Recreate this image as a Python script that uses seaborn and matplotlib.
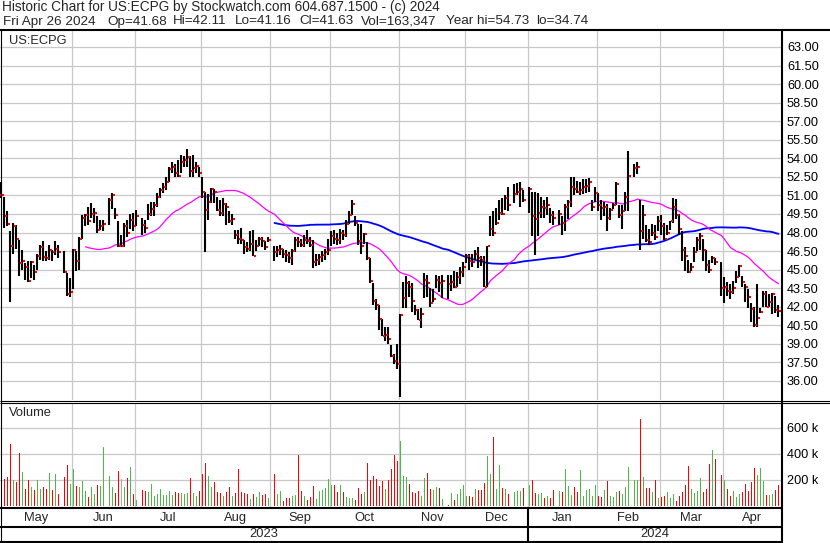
import numpy as np
import pandas as pd
import matplotlib
matplotlib.use("Agg")
import matplotlib.pyplot as plt
import matplotlib.transforms as mtransforms
from matplotlib.lines import Line2D
import seaborn as sns

# ---- data (daily, Apr 27 2023 .. Apr 26 2024), one row per month ----
holidays = ["2023-05-29", "2023-06-19", "2023-07-04", "2023-09-04", "2023-11-23",
            "2023-12-25", "2024-01-01", "2024-01-15", "2024-02-19", "2024-03-29"]

close = [
    51.4, 51.0,
    51.0, 49.3, 48.7, 46.9, 48.5, 47.5, 45.5, 45.7, 45.2, 44.1, 45.6, 44.8, 46.1, 46.8, 46.0, 45.9, 46.6, 46.4, 46.7, 46.4, 44.8, 43.0,
    43.2, 46.6, 45.7, 47.5, 49.2, 49.4, 48.9, 49.5, 49.6, 48.2, 48.5, 48.7, 50.6, 51.0, 49.4, 46.9, 46.9, 48.5, 48.0, 49.0, 48.5,
    49.3, 48.6, 48.4, 49.5, 49.9, 50.2, 50.9, 51.4, 51.7, 52.05, 53.1, 53.3, 52.8, 52.6, 53.7, 53.9, 54.1, 53.0, 53.2, 53.4,
    52.8, 51.3, 49.8, 50.5, 51.5, 51.3, 49.8, 49.6, 50.3, 50.1, 48.9, 49.1, 47.8, 47.5, 47.4, 46.8, 46.7, 47.1, 46.1, 46.9, 47.5, 47.3, 46.8,
    47.4, 46.4, 46.6, 46.7, 46.3, 46.2, 45.9, 46.5, 47.4, 47.2, 47.0, 47.4, 47.3, 47.0, 45.6, 45.8, 46.0, 46.2, 46.4, 46.6,
    47.7, 47.5, 47.4, 48.0, 47.8, 48.7, 49.4, 50.3, 48.8, 47.3, 46.9, 47.9, 45.9, 44.1, 42.5, 42.1, 41.0, 39.6, 39.7, 39.4, 38.0, 37.6,
    37.4, 41.3, 42.7, 43.9, 43.6, 42.5, 41.7, 40.9, 41.4, 44.2, 43.9, 42.3, 42.6, 44.2, 43.9, 44.1, 43.8, 44.0, 43.6, 44.4, 44.8,
    45.2, 46.1, 45.7, 45.6, 46.3, 45.9, 45.8, 43.6, 46.9, 48.3, 48.0, 48.8, 49.6, 49.5, 50.8, 50.2, 51.1, 51.3, 51.5, 50.6,
    51.5, 49.3, 49.1, 49.6, 50.1, 50.0, 50.2, 49.4, 49.2, 49.5, 48.8, 50.1, 50.5, 51.7, 51.5, 51.3, 51.4, 51.7, 51.8, 52.1, 50.1,
    51.2, 50.2, 50.0, 50.1, 49.2, 49.8, 50.2, 51.9, 49.4, 49.7, 50.9, 52.6, 53.2, 53.3, 48.1, 49.4, 47.4, 47.2, 48.0, 47.6,
    48.9, 48.5, 47.5, 48.0, 48.9, 50.1, 49.4, 48.3, 46.6, 46.1, 44.8, 45.2, 46.4, 47.4, 47.7, 46.6, 45.4, 45.0, 45.9, 45.6,
    43.5, 43.6, 43.3, 43.2, 43.5, 44.4, 45.3, 44.0, 43.6, 42.8, 41.8, 40.5, 41.1, 41.6, 43.0, 42.0, 42.4, 43.0, 41.7, 41.63,
]
high = [
    52.3, 51.9,
    52.1, 50.9, 49.7, 48.1, 48.8, 48.6, 47.4, 46.6, 45.5, 45.7, 45.7, 45.4, 46.3, 47.0, 47.3, 46.5, 47.0, 46.6, 47.3, 47.0, 46.5, 44.7,
    44.3, 46.7, 46.5, 47.6, 49.4, 49.5, 50.1, 50.4, 50.0, 49.3, 49.0, 49.0, 50.8, 51.2, 50.0, 48.9, 47.8, 48.8, 49.0, 49.5, 49.6,
    49.8, 49.2, 49.0, 50.3, 50.5, 50.5, 51.2, 51.6, 52.0, 52.5, 53.3, 53.7, 53.5, 53.9, 54.3, 54.2, 54.73, 54.2, 54.3, 53.7,
    53.3, 52.5, 51.3, 51.1, 51.6, 51.5, 50.9, 50.6, 50.8, 50.4, 49.7, 49.5, 48.2, 48.2, 48.4, 47.4, 47.2, 48.1, 48.2, 47.4, 47.6, 47.6, 47.3,
    47.6, 46.9, 46.9, 47.0, 46.7, 46.6, 46.4, 46.7, 47.6, 47.6, 47.5, 47.8, 48.2, 47.6, 47.4, 46.3, 46.3, 46.5, 46.7, 47.5,
    48.1, 48.2, 48.0, 48.3, 48.2, 49.0, 49.7, 50.6, 49.3, 48.7, 48.7, 48.0, 47.2, 45.9, 43.9, 42.6, 42.1, 41.0, 40.4, 40.4, 38.9, 38.2,
    39.0, 41.4, 44.0, 44.5, 44.1, 43.9, 42.1, 41.8, 41.9, 44.7, 44.6, 43.5, 43.4, 44.6, 44.5, 44.6, 44.6, 44.6, 44.9, 44.8, 45.2,
    45.6, 46.3, 46.3, 46.3, 46.6, 46.8, 46.1, 46.1, 46.9, 49.3, 49.7, 50.0, 50.6, 50.8, 51.0, 51.7, 51.9, 52.0, 52.1, 51.4,
    51.7, 51.3, 51.3, 51.2, 50.9, 50.6, 50.9, 50.0, 49.7, 49.8, 49.3, 50.3, 50.6, 52.5, 52.5, 52.2, 52.1, 52.3, 52.3, 52.4, 50.6,
    51.7, 51.2, 50.6, 50.5, 50.3, 50.0, 50.4, 52.1, 50.2, 50.2, 51.3, 54.6, 53.5, 53.7, 50.6, 50.2, 48.6, 48.3, 48.7, 48.6,
    49.3, 49.4, 48.8, 48.6, 48.9, 50.8, 50.7, 49.5, 48.1, 46.8, 45.8, 45.5, 46.8, 47.6, 48.0, 47.5, 46.6, 45.8, 46.1, 45.9,
    45.6, 44.4, 44.0, 43.8, 44.1, 44.9, 45.4, 44.5, 43.8, 43.4, 42.3, 42.0, 43.8, 41.9, 43.3, 43.3, 43.0, 43.1, 42.9, 42.11,
]
low = [
    50.9, 50.7,
    50.8, 48.4, 48.5, 42.4, 46.3, 46.7, 44.5, 45.0, 44.2, 44.0, 44.3, 44.2, 45.0, 45.8, 45.7, 45.7, 45.8, 45.7, 46.2, 45.9, 44.7, 42.9,
    42.8, 43.4, 44.9, 45.0, 47.5, 48.5, 48.6, 49.2, 48.8, 48.0, 48.2, 48.1, 48.6, 49.9, 49.1, 46.8, 46.8, 46.8, 47.6, 48.3, 48.1,
    48.5, 47.8, 48.0, 49.0, 49.3, 49.3, 50.1, 50.8, 51.2, 51.4, 52.1, 52.8, 52.5, 52.5, 52.8, 53.3, 53.3, 52.5, 52.5, 52.8,
    52.5, 50.8, 46.4, 49.0, 50.4, 50.4, 49.7, 49.3, 49.3, 48.6, 48.8, 48.6, 47.5, 47.1, 47.1, 46.3, 46.4, 46.5, 46.1, 46.5, 46.9, 46.8, 46.6,
    47.2, 45.7, 46.0, 46.2, 45.9, 45.6, 45.5, 45.4, 46.4, 46.8, 46.8, 46.8, 47.1, 46.8, 45.1, 45.3, 45.4, 45.6, 45.8, 46.2,
    46.9, 47.1, 47.0, 47.1, 47.4, 47.6, 48.7, 49.4, 48.5, 47.0, 46.3, 47.1, 45.8, 43.9, 42.1, 41.7, 40.1, 39.6, 39.2, 39.0, 37.9, 37.4,
    37.0, 34.74, 41.9, 41.9, 42.8, 41.6, 41.3, 40.9, 40.3, 42.7, 42.8, 42.0, 42.4, 43.5, 43.2, 42.7, 42.6, 43.3, 43.5, 43.6, 43.8,
    44.4, 45.5, 45.0, 45.2, 45.8, 45.1, 45.3, 43.6, 43.6, 47.7, 47.7, 48.6, 49.0, 49.4, 49.8, 49.7, 50.4, 51.0, 50.1, 50.5,
    49.6, 47.7, 46.2, 47.7, 49.2, 49.2, 49.4, 48.8, 48.6, 48.6, 47.8, 48.1, 49.1, 50.1, 51.0, 51.2, 51.0, 51.1, 51.2, 51.3, 49.7,
    50.5, 49.7, 49.0, 49.3, 48.1, 49.0, 49.9, 50.2, 49.2, 48.3, 49.7, 49.7, 52.5, 52.7, 46.6, 47.5, 47.2, 47.0, 47.7, 47.4,
    48.1, 47.8, 47.4, 47.8, 48.2, 48.8, 49.1, 47.8, 45.7, 44.9, 44.7, 44.9, 45.6, 46.5, 46.6, 45.7, 44.9, 44.7, 45.5, 45.4,
    42.9, 42.3, 42.9, 42.6, 43.0, 43.9, 44.4, 43.6, 42.4, 41.9, 40.8, 40.4, 40.4, 41.5, 42.0, 42.0, 42.0, 41.4, 41.5, 41.16,
]
# volume in thousands
volume = [
    120, 100,
    100, 208, 226, 477, 200, 182, 410, 261, 131, 200, 146, 123, 200, 131, 146, 131, 254, 123, 246, 92, 223, 315,
    169, 285, 154, 146, 192, 115, 69, 146, 92, 162, 154, 454, 231, 146, 100, 269, 208, 146, 215, 300, 92,
    46, 123, 115, 108, 169, 77, 92, 131, 85, 85, 115, 85, 108, 100, 100, 92, 100, 215, 100, 77,
    115, 246, 331, 231, 146, 185, 108, 100, 77, 108, 146, 77, 100, 285, 108, 100, 92, 54, 92, 69, 108, 85, 92,
    62, 246, 92, 115, 38, 62, 62, 77, 85, 392, 115, 77, 46, 69, 154, 54, 115, 123, 138, 208,
    162, 162, 108, 162, 108, 69, 62, 62, 46, 138, 92, 108, 331, 200, 231, 208, 154, 192, 131, 200, 285, 392,
    346, 500, 231, 223, 169, 108, 100, 115, 77, 215, 254, 131, 123, 146, 138, 54, 8, 100, 46, 92, 131,
    162, 77, 77, 69, 131, 123, 123, 177, 385, 246, 531, 131, 315, 138, 131, 92, 108, 115, 115, 138,
    162, 200, 100, 92, 100, 62, 77, 62, 123, 115, 108, 285, 154, 85, 146, 108, 277, 77, 123, 131, 77,
    162, 77, 69, 123, 192, 77, 69, 108, 115, 92, 146, 300, 200, 200, 669, 226, 138, 138, 108, 200,
    62, 69, 77, 108, 62, 92, 38, 77, 108, 162, 308, 131, 100, 115, 215, 108, 131, 323, 431, 362,
    238, 200, 131, 77, 115, 69, 92, 108, 169, 115, 185, 292, 238, 292, 192, 85, 85, 92, 123, 163,
]
# volume bar colour as read: R = down, G = up, N = unchanged
vol_dir = ("RR"
           "NRRRGRRGRRGRGGRRGRGRRR"
           "GGRGGGRGGRGGGGRRNGRGR"
           "GRRGGGGGGGGGRRGGGRGG"
           "RRRGGRRRGRRGRRRRRGRGGRR"
           "GRGGRRRGGRRGRRRGGGGG"
           "GRRGRGGGRRRGRRRRRRGRRR"
           "RGGGRRRRGGRRGGRGRGRGG"
           "GGRRGRRRGGRGGRGRGGGR"
           "GRRGGRGRRGRGGGRRGGGGG"
           "GRRGRGGGRGGGGGRGRRGR"
           "GRRGGGRRRRRGGGGRRRGR"
           "RGRRGGGRRRRRGGGRGGRR")

price_ticks = [36.0, 37.5, 39.0, 40.5, 42.0, 43.5, 45.0, 46.5, 48.0, 49.5,
               51.0, 52.5, 54.0, 55.5, 57.0, 58.5, 60.0, 61.5, 63.0]
vol_ticks = [200, 400, 600]
vol_labels = ["200 k", "400 k", "600 k"]

title1 = "Historic Chart for US:ECPG by Stockwatch.com 604.687.1500 - (c) 2024"
title2 = [("Fri Apr 26 2024", 3), ("Op=41.68", 107), ("Hi=42.11", 173), ("Lo=41.16", 235),
          ("Cl=41.63", 299), ("Vol=163,347", 361), ("Year hi=54.73", 446), ("lo=34.74", 536)]

# ---- build frame ----
weekdays = pd.bdate_range("2023-04-27", "2024-04-26")
trade = weekdays[~weekdays.isin(pd.to_datetime(holidays))]
n = len(trade)
assert len(close) == n and len(high) == n and len(low) == n and len(volume) == n and len(vol_dir) == n, \
    (n, len(close), len(high), len(low), len(volume), len(vol_dir))

df = pd.DataFrame({"slot": weekdays.get_indexer(trade), "close": close, "high": high,
                   "low": low, "vol": np.array(volume) * 1000.0, "dir": list(vol_dir)})
df["ma30"] = df["close"].rolling(30).mean()
df["ma90"] = df["close"].rolling(90).mean()

months = pd.date_range("2023-05-01", "2024-04-01", freq="MS")
bounds = np.searchsorted(weekdays.values, months[1:].values, side="right") - 1 + 0.5
xmin, xmax = 1.5, 262.17

sns.set_theme(style="white")
plt.rcParams["font.family"] = ["Liberation Sans", "DejaVu Sans"]

W, H = 830, 543
fig = plt.figure(figsize=(W / 100, H / 100), dpi=100, facecolor="white")


def axes_px(x0, y0, x1, y1):
    return fig.add_axes([x0 / W, 1 - y1 / H, (x1 - x0) / W, (y1 - y0) / H])


grid_c = "#c8c8c8"
ax = axes_px(0, 31, 782, 400)
axv = axes_px(0, 403, 782, 507)

for a in (ax, axv):
    a.set_facecolor("white")
    a.set_xlim(xmin, xmax)
    a.set_xticks(bounds)
    a.tick_params(axis="x", length=0, labelbottom=False)
    a.yaxis.tick_right()
    a.tick_params(axis="y", length=0, pad=3.6, labelsize=9.2, labelcolor="black")
    a.grid(True, color=grid_c, lw=0.9)
    a.set_axisbelow(True)
    for s in a.spines.values():
        s.set_visible(False)

# price panel
ax.set_ylim(34.46, 64.29)
ax.set_yticks(price_ticks)
ax.set_yticklabels([f"{t:.2f}" for t in price_ticks])
sns.lineplot(data=df, x="slot", y="ma90", color="#0000ff", lw=1.3, ax=ax, errorbar=None)
sns.lineplot(data=df, x="slot", y="ma30", color="#ff00ff", lw=0.9, ax=ax, errorbar=None)
ax.vlines(df["slot"], df["low"], df["high"], color="black", lw=1.5)
ax.hlines(df["close"], df["slot"] + 0.3, df["slot"] + 0.95, color="#ff0000", lw=1.5)
ax.set_xlabel("")
ax.set_ylabel("")
ax.text(9 / 782, 1 - 10 / 369, "US:ECPG", transform=ax.transAxes, fontsize=9.3, va="center", ha="left")

# volume panel
cmap = {"R": "#ff0000", "G": "#50b848", "N": "#a8a8a8"}
axv.bar(df["slot"], df["vol"], width=0.65, color=[cmap[d] for d in df["dir"]], linewidth=0)
axv.set_ylim(-7700, 792000)
axv.set_yticks([v * 1000 for v in vol_ticks])
axv.set_yticklabels(vol_labels)
axv.text(9 / 782, 1 - 10 / 104, "Volume", transform=axv.transAxes, fontsize=9.3, va="center", ha="left")

# month / year labels
blend = mtransforms.blended_transform_factory(ax.transData, fig.transFigure)
edges = np.concatenate([[xmin], bounds, [xmax]])
for name, a0, a1 in zip(months.strftime("%b"), edges[:-1], edges[1:]):
    fig.text((a0 + a1) / 2, 1 - 518 / H, name, transform=blend, ha="center", va="center", fontsize=9.3)
ybound = bounds[list(months[1:]).index(pd.Timestamp("2024-01-01"))]
for name, a0, a1 in [("2023", xmin, ybound), ("2024", ybound, xmax)]:
    fig.text((a0 + a1) / 2, 1 - 534 / H, name, transform=blend, ha="center", va="center", fontsize=9.3)

# header
fig.text(2 / W, 1 - 7 / H, title1, fontsize=9.85, va="center", ha="left")
for t, x in title2:
    fig.text(x / W, 1 - 21.5 / H, t, fontsize=9.7, va="center", ha="left")


def frame_line(x0, y0, x1, y1, lw):
    fig.add_artist(Line2D([x0 / W, x1 / W], [1 - y0 / H, 1 - y1 / H], color="black",
                          lw=lw, transform=fig.transFigure, solid_capstyle="butt"))


frame_line(0, 30, W, 30, 1.5)
frame_line(782, 30, 782, H, 1.5)
frame_line(0.5, 30, 0.5, H, 0.8)
frame_line(0, 400.5, W, 400.5, 0.8)
frame_line(0, 402.8, W, 402.8, 0.8)
frame_line(0, 508, 782, 508, 1.5)
frame_line(0, 527, 782, 527, 1.5)
frame_line(0, 541.8, 782, 541.8, 1.5)
ypx = (ybound - xmin) / (xmax - xmin) * 782
frame_line(ypx, 508, ypx, 541.8, 1.5)

fig.savefig("out.png", dpi=100, facecolor="white")
